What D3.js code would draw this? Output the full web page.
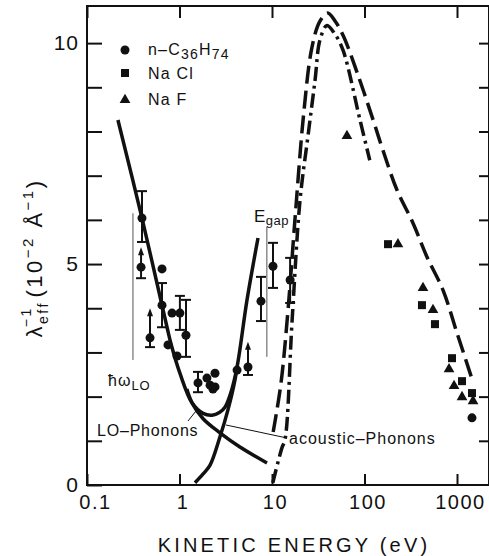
<!doctype html>
<html>
<head>
<meta charset="UTF-8">
<title>Inverse mean free path</title>
<script src="https://d3js.org/d3.v7.min.js"></script>
<style>
  body { margin: 0; background: #fff; }
  svg { display: block; font-family: "Liberation Sans", Arial, sans-serif; }
</style>
</head>
<body>
<script>
// ---- data (energy in eV, lambda^-1 in 10^-2 A^-1) ----
var xTicks = [0.1, 1, 10, 100, 1000];
var yLabels = [0, 5, 10];

// total (LO + acoustic) solid curve
var totalCurve = [[0.216, 8.26], [0.393, 6.04], [0.733, 3.57], [0.82, 3.15], [1.01, 2.53], [1.365, 1.86],
  [1.8, 1.62], [2.25, 1.58], [2.7, 1.64], [3.1, 1.76], [3.6, 2.1], [4.19, 2.67], [5.37, 4.19], [7.06, 5.59]];
var loCurve = [[1.2, 2.17], [1.365, 1.86], [1.8, 1.5], [2.74, 1.18], [4.5, 0.86], [8.83, 0.50]];
var acCurve = [[1.47, 0.05], [1.8, 0.25], [2.14, 0.45], [2.74, 1.09], [3.34, 1.70], [3.98, 2.38], [4.19, 2.67]];

// right-hand curves
var dashCurve = [[10.3, 1.2], [12.5, 2.3], [14.9, 3.96], [18, 6.2], [22, 8.4], [27, 9.9], [33, 10.5], [40, 10.68],
  [48, 10.5], [58.6, 10.18], [85, 9.28], [124, 8.26], [158, 7.58], [225, 6.67], [334, 5.93],
  [474, 5.16], [706, 4.41], [1000, 3.44], [1490, 2.33]];
var dotDashCurve = [[10.2, 0.05], [12.8, 0.84], [13.8, 1.02], [16.5, 3.73], [20.1, 6.45], [24.5, 7.9],
  [29.2, 9.16], [33, 10.07], [39.3, 10.4], [48, 10.2], [58.6, 9.84], [89.4, 8.26], [114, 7.35]];

// n-C36H74 points: kind 'e' = error bar, 'a' = lower limit arrow
var c36 = [
  {e: 0.393, v: 6.04, lo: 5.50, hi: 6.65, k: 'e'},
  {e: 0.384, v: 4.93, lo: 4.68, hi: 5.38, k: 'a'},
  {e: 0.647, v: 4.89},
  {e: 0.647, v: 4.07, lo: 3.57, hi: 4.57, k: 'e'},
  {e: 0.83, v: 3.89},
  {e: 1.01, v: 3.89, lo: 3.51, hi: 4.28, k: 'e'},
  {e: 0.48, v: 3.33, lo: 3.12, hi: 4.0, k: 'a'},
  {e: 1.175, v: 3.39, lo: 2.90, hi: 4.19, k: 'e'},
  {e: 0.751, v: 3.17},
  {e: 0.94, v: 2.92},
  {e: 1.585, v: 2.31, lo: 2.10, hi: 2.56, k: 'e'},
  {e: 1.98, v: 2.42},
  {e: 2.42, v: 2.53},
  {e: 2.14, v: 2.26},
  {e: 2.3, v: 2.17},
  {e: 2.42, v: 2.22},
  {e: 4.19, v: 2.60},
  {e: 5.5, v: 2.67, lo: 2.49, hi: 3.24, k: 'a'},
  {e: 7.6, v: 4.16, lo: 3.71, hi: 4.71, k: 'e'},
  {e: 10.25, v: 4.95, lo: 4.46, hi: 5.48, k: 'e'},
  {e: 15.7, v: 4.64, lo: 4.12, hi: 5.14, k: 'e'},
  {e: 1452, v: 1.52}
];
var naclE = [179.6, 418, 578, 883, 1133, 1452];
var naclV = [5.45, 4.07, 3.64, 2.87, 2.35, 2.08];
var nafE = [64.6, 230, 429, 550, 820, 929, 1133, 1490];
var nafV = [7.9, 5.45, 4.46, 3.96, 2.62, 2.24, 1.99, 1.90];

var hwLO = 0.314, eGap = 8.8;

// ---- layout ----
var width = 489, height = 556;
var svg = d3.select('body').append('svg')
    .attr('width', width)
    .attr('height', height);

var x = d3.scaleLog().domain([0.1, 2218]).range([87, 489]);
var y = d3.scaleLinear().domain([0, 10.84]).range([485, 6]);

var ink = '#111';

// frame
svg.append('rect')
    .attr('x', 87).attr('y', 6)
    .attr('width', 489 - 87).attr('height', 485 - 6)
    .attr('fill', 'none').attr('stroke', ink).attr('stroke-width', 2);

// bottom axis
var xAxis = svg.append('g')
    .attr('transform', 'translate(0,485)')
    .call(d3.axisBottom(x).tickValues(xTicks).tickSizeInner(-11).tickSizeOuter(0).tickPadding(10)
        .tickFormat(function(d){ return d; }));
xAxis.select('.domain').remove();
xAxis.selectAll('line').attr('stroke', ink).attr('stroke-width', 2);
xAxis.selectAll('text').attr('font-size', 20).attr('fill', ink).attr('letter-spacing', 1.5)
    .attr('dx', function(d){ return d === 0.1 ? 8 : 3; });

// top axis
var xTop = svg.append('g')
    .attr('transform', 'translate(0,6)')
    .call(d3.axisTop(x).tickValues(xTicks).tickSizeInner(-12).tickSizeOuter(0).tickFormat(''));
xTop.select('.domain').remove();
xTop.selectAll('line').attr('stroke', ink).attr('stroke-width', 2);

// left axis
var yAxis = svg.append('g')
    .attr('transform', 'translate(87,0)')
    .call(d3.axisLeft(y).tickValues(d3.range(0, 11)).tickSizeInner(-15).tickSizeOuter(0).tickPadding(8)
        .tickFormat(function(d){ return yLabels.indexOf(d) >= 0 ? d : ''; }));
yAxis.select('.domain').remove();
yAxis.selectAll('line').attr('stroke', ink).attr('stroke-width', 2);
yAxis.selectAll('text').attr('font-size', 21).attr('fill', ink).attr('letter-spacing', 1);

// right axis
var yRight = svg.append('g')
    .attr('transform', 'translate(489,0)')
    .call(d3.axisRight(y).tickValues(d3.range(1, 11)).tickSizeInner(-10).tickSizeOuter(0).tickFormat(''));
yRight.select('.domain').remove();
yRight.selectAll('line').attr('stroke', ink).attr('stroke-width', 2);

// axis titles
svg.append('text')
    .attr('x', 294).attr('y', 552)
    .attr('text-anchor', 'middle')
    .attr('font-size', 20).attr('letter-spacing', 3.2).attr('fill', ink)
    .text('KINETIC ENERGY (eV)');

var yt = svg.append('text')
    .attr('transform', 'translate(42,258) rotate(-90)')
    .attr('text-anchor', 'middle')
    .attr('font-size', 22).attr('letter-spacing', 2.5).attr('fill', ink);
yt.append('tspan').text('λ');
yt.append('tspan').attr('font-size', 14).attr('dy', 6).text('eff');
yt.append('tspan').attr('font-size', 14).attr('dx', -26).attr('dy', -17).text('−1');
yt.append('tspan').attr('dy', 11).text(' (10');
yt.append('tspan').attr('font-size', 15).attr('dy', -9).text('−2');
yt.append('tspan').attr('dy', 9).text(' Å');
yt.append('tspan').attr('font-size', 15).attr('dy', -9).text('−1');
yt.append('tspan').attr('dy', 9).text(')');

// ---- curves ----
var line = d3.line()
    .x(function(d){ return x(d[0]); })
    .y(function(d){ return y(d[1]); })
    .curve(d3.curveCatmullRom.alpha(0.5));

svg.append('path').datum(totalCurve).attr('d', line)
    .attr('fill', 'none').attr('stroke', ink).attr('stroke-width', 3.5);
svg.append('path').datum(loCurve).attr('d', line)
    .attr('fill', 'none').attr('stroke', ink).attr('stroke-width', 3.5);
svg.append('path').datum(acCurve).attr('d', line)
    .attr('fill', 'none').attr('stroke', ink).attr('stroke-width', 3.5);
svg.append('path').datum(dashCurve).attr('d', line)
    .attr('fill', 'none').attr('stroke', ink).attr('stroke-width', 3.5)
    .attr('stroke-dasharray', '18,7');
svg.append('path').datum(dotDashCurve).attr('d', line)
    .attr('fill', 'none').attr('stroke', ink).attr('stroke-width', 3.5)
    .attr('stroke-dasharray', '14,5,3,5');

// thin marker lines
svg.append('line')
    .attr('x1', x(hwLO)).attr('x2', x(hwLO))
    .attr('y1', y(6.15)).attr('y2', y(2.83))
    .attr('stroke', '#555').attr('stroke-width', 1);
svg.append('line')
    .attr('x1', x(eGap)).attr('x2', x(eGap))
    .attr('y1', y(5.84)).attr('y2', y(2.9))
    .attr('stroke', '#555').attr('stroke-width', 1);

// ---- data points ----
var pts = svg.append('g');
c36.forEach(function(d){
    var cx = x(d.e), cy = y(d.v);
    if (d.k === 'e') {
        pts.append('line').attr('x1', cx).attr('x2', cx).attr('y1', y(d.lo)).attr('y2', y(d.hi))
            .attr('stroke', ink).attr('stroke-width', 2);
        [d.lo, d.hi].forEach(function(b){
            pts.append('line').attr('x1', cx - 5).attr('x2', cx + 5).attr('y1', y(b)).attr('y2', y(b))
                .attr('stroke', ink).attr('stroke-width', 2);
        });
    } else if (d.k === 'a') {
        pts.append('line').attr('x1', cx).attr('x2', cx).attr('y1', y(d.lo)).attr('y2', y(d.hi) + 5)
            .attr('stroke', ink).attr('stroke-width', 2);
        pts.append('line').attr('x1', cx - 5).attr('x2', cx + 5).attr('y1', y(d.lo)).attr('y2', y(d.lo))
            .attr('stroke', ink).attr('stroke-width', 2);
        pts.append('path')
            .attr('d', 'M' + cx + ',' + y(d.hi) + 'l-3,8h6z')
            .attr('fill', ink);
    }
    pts.append('circle').attr('cx', cx).attr('cy', cy).attr('r', 4.5).attr('fill', ink);
});

pts.selectAll('rect.nacl').data(naclE).enter().append('rect')
    .attr('class', 'nacl')
    .attr('x', function(d){ return x(d) - 4; })
    .attr('y', function(d, i){ return y(naclV[i]) - 4; })
    .attr('width', 8).attr('height', 8).attr('fill', ink);

var tri = d3.symbol().type(d3.symbolTriangle).size(50);
pts.selectAll('path.naf').data(nafE).enter().append('path')
    .attr('class', 'naf')
    .attr('d', tri)
    .attr('transform', function(d, i){ return 'translate(' + x(d) + ',' + y(nafV[i]) + ')'; })
    .attr('fill', ink);

// ---- annotations ----
svg.append('text').attr('x', 108).attr('y', 386).attr('font-size', 16).attr('fill', ink)
    .attr('letter-spacing', 1)
    .html('ħω<tspan font-size="13" dy="4">LO</tspan>');
svg.append('text').attr('x', 254).attr('y', 222).attr('font-size', 17).attr('fill', ink)
    .attr('letter-spacing', 0.5)
    .html('E<tspan font-size="13" dy="3">gap</tspan>');

svg.append('text').attr('x', 97).attr('y', 436).attr('font-size', 16).attr('fill', ink)
    .attr('letter-spacing', 0.8).text('LO–Phonons');
svg.append('line').attr('x1', 188).attr('y1', 421).attr('x2', 196).attr('y2', 411)
    .attr('stroke', ink).attr('stroke-width', 1);

svg.append('text').attr('x', 289).attr('y', 444).attr('font-size', 16).attr('fill', ink)
    .attr('letter-spacing', 1).text('acoustic–Phonons');
svg.append('line').attr('x1', 287).attr('y1', 438).attr('x2', 226).attr('y2', 425)
    .attr('stroke', ink).attr('stroke-width', 1);

// legend
var leg = svg.append('g').attr('fill', ink).attr('font-size', 16).attr('letter-spacing', 1.2);
leg.append('circle').attr('cx', 125).attr('cy', 50).attr('r', 4.5);
leg.append('text').attr('x', 148).attr('y', 55)
    .html('n–C<tspan font-size="14" dy="4">36</tspan><tspan dy="-4">H</tspan><tspan font-size="14" dy="4">74</tspan>');
leg.append('rect').attr('x', 121).attr('y', 69).attr('width', 8).attr('height', 8);
leg.append('text').attr('x', 148).attr('y', 79).text('Na Cl');
leg.append('path').attr('d', tri).attr('transform', 'translate(125,100)');
leg.append('text').attr('x', 148).attr('y', 105).text('Na F');
</script>
</body>
</html>
